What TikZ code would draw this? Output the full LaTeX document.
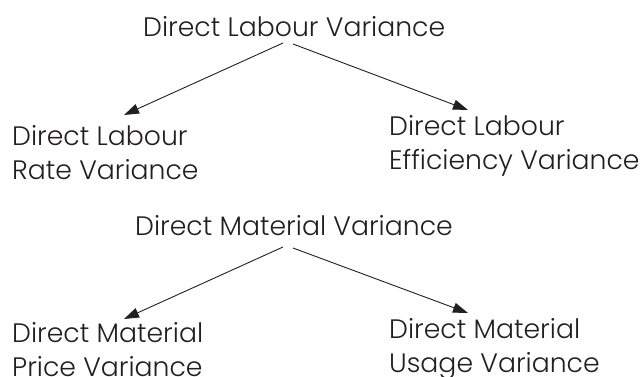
\documentclass[tikz,border=0pt]{standalone}
\usepackage{fontspec}
\setmainfont{Poppins}[UprightFont=* Light]
\usetikzlibrary{arrows.meta}
\definecolor{ink}{RGB}{35,31,32}
\newlength\probewd
% two stacked lines whose baseline is that of the first line
\newcommand\stacklines[2]{\vtop{\hbox{#1}\hbox{#2}}}
\begin{document}
% size the type so that the top heading spans 302pt
\settowidth\probewd{\fontsize{10pt}{12pt}\selectfont Direct Labour Variance}
\pgfmathsetmacro\labelsize{10*302/\probewd}
\begin{tikzpicture}[x=1pt,y=-1pt,
  lbl/.style={anchor=base west,inner sep=0pt,text=ink,
    font=\fontsize{\labelsize pt}{34pt}\selectfont},
  arr/.style={draw=ink,line width=0.9pt,-{Triangle[length=15pt,width=10pt]}}]
  \useasboundingbox (0,0) rectangle (641,377);
  % labour variance
  \node[lbl] (t1) at (143,37) {Direct Labour Variance};
  \node[lbl] (l1) at (12,146) {\stacklines{Direct Labour}{Rate Variance}};
  \node[lbl] (r1) at (389,136) {\stacklines{Direct Labour}{Efficiency Variance}};
  \draw[arr] ([shift={(140,6)}]t1.base west) -- ([shift={(112,-31)}]l1.base west);
  \draw[arr] ([shift={(150,7)}]t1.base west) -- ([shift={(79,-26)}]r1.base west);
  % material variance
  \node[lbl] (t2) at (135,236) {Direct Material Variance};
  \node[lbl] (l2) at (12,343) {\stacklines{Direct Material}{Price Variance}};
  \node[lbl] (r2) at (389,339) {\stacklines{Direct Material}{Usage Variance}};
  \draw[arr] ([shift={(148,11)}]t2.base west) -- ([shift={(112,-24)}]l2.base west);
  \draw[arr] ([shift={(158,12)}]t2.base west) -- ([shift={(79,-26)}]r2.base west);
\end{tikzpicture}
\end{document}
